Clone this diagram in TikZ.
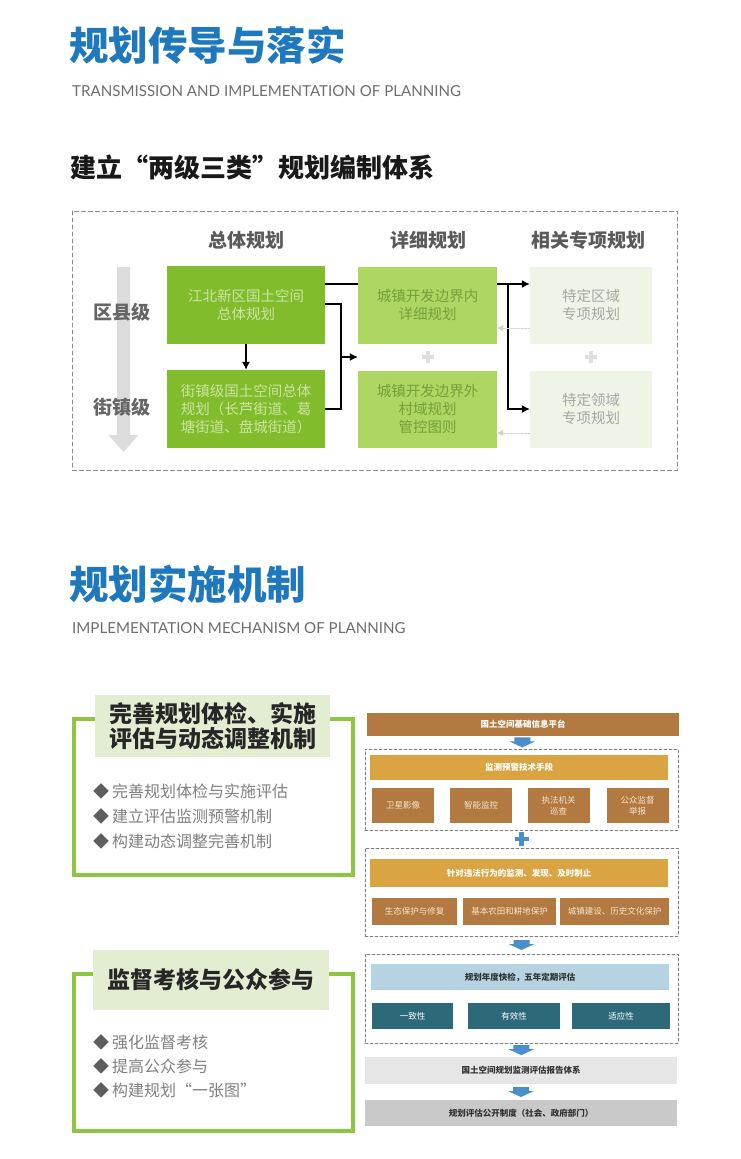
\documentclass[tikz,border=0pt]{standalone}
\usepackage{fontspec}
\setmainfont{Noto Sans CJK SC}
\newfontfamily\latinfont{Lato}
\usepackage{xcolor}
\usepackage{tikz}
\usetikzlibrary{arrows.meta, calc, positioning}

\definecolor{TitleBlue}{HTML}{1E78BE}
\definecolor{SubGray}{HTML}{6E6E6E}
\definecolor{HeadGray}{HTML}{5A5A5A}
\definecolor{LevelGray}{HTML}{DCDCDC}
\definecolor{LeafDark}{HTML}{80BC2C}
\definecolor{LeafDarkText}{HTML}{CDE4A0}
\definecolor{LeafMid}{HTML}{ADD663}
\definecolor{LeafMidText}{HTML}{74A03A}
\definecolor{LeafPale}{HTML}{EFF5E6}
\definecolor{LeafPaleText}{HTML}{A6A6A6}
\definecolor{PaleArrow}{HTML}{D2D2D2}
\definecolor{PlusGray}{HTML}{DEDEDE}
\definecolor{OutlineGray}{HTML}{8C8C8C}
\definecolor{FrameGreen}{HTML}{8DC640}
\definecolor{LabelGreen}{HTML}{E3EDD2}
\definecolor{PointGray}{HTML}{808080}
\definecolor{DiamondGray}{HTML}{5E5E5E}
\definecolor{GroupGray}{HTML}{7F7F7F}
\definecolor{Bronze}{HTML}{B27A40}
\definecolor{Amber}{HTML}{D9A441}
\definecolor{TileText}{HTML}{F5E6CF}
\definecolor{ArrowBlue}{HTML}{4A8FCC}
\definecolor{Teal}{HTML}{2C6A7A}
\definecolor{IceBlue}{HTML}{B5D3E1}
\definecolor{MistGray}{HTML}{E6E6E6}
\definecolor{AshGray}{HTML}{C9C9C9}

\newcommand{\setfs}[2]{\fontsize{#1}{#2}\selectfont}

\newcommand{\BlockArrow}[2][ArrowBlue]{
	\def\afill{#1}
	\def\apin{#2}
	\begin{scope}[shift={(\apin)}]
		\fill[\afill] (-8,-5) -- (8,-5) -- (8,-1) -- (13,-1) -- (0,5) -- (-13,-1) -- (-8,-1) -- cycle;
	\end{scope}
}
\newcommand{\PlusSign}[4]{
	\def\ppin{#1}
	\def\pcol{#2}
	\def\parm{#3}
	\def\pwid{#4}
	\draw[\pcol, line width=\pwid pt, line cap=butt] ($(\ppin)+(-\parm,0)$) -- ($(\ppin)+(\parm,0)$) ($(\ppin)+(0,-\parm)$) -- ($(\ppin)+(0,\parm)$);
}

\tikzset{
	headtext/.style={font=\setfs{19}{22}\bfseries, text=HeadGray, inner sep=0pt},
	plan/.style={inner sep=0pt, align=center, font=\setfs{14.5}{18}},
	planD/.style={plan, fill=LeafDark, text=LeafDarkText, minimum width=158pt, minimum height=78pt},
	planM/.style={plan, fill=LeafMid, text=LeafMidText, minimum width=139pt, minimum height=77pt},
	planP/.style={plan, fill=LeafPale, text=LeafPaleText, minimum width=122pt, minimum height=77pt},
	link/.style={line width=1.2pt, black, line cap=butt},
	linkarr/.style={link, -{Latex[length=8pt, width=8pt]}},
	backarr/.style={line width=0.9pt, PaleArrow, dash pattern=on 2pt off 1.5pt, -{Latex[length=6pt, width=7pt]}},
	dashbox/.style={draw=OutlineGray, line width=1pt, dash pattern=on 4pt off 3pt},
	greenframe/.style={draw=FrameGreen, line width=4pt, line cap=butt},
	tag/.style={fill=LabelGreen, inner sep=0pt, align=center, font=\setfs{23}{25}\bfseries, text=black!85},
	points/.style={anchor=west, inner sep=0pt, align=left, text=PointGray, font=\setfs{16}{25}},
	dashgroup/.style={draw=GroupGray, line width=0.9pt, dash pattern=on 3pt off 2pt, inner sep=0pt},
	bar/.style={inner sep=0pt, align=center, font=\setfs{8.5}{10}\bfseries, text=white, minimum width=298pt},
	tile/.style={fill=Bronze, inner sep=0pt, align=center, font=\setfs{8.5}{10.5}, text=TileText, minimum height=35pt},
	cell/.style={fill=Teal, inner sep=0pt, font=\setfs{8.5}{10}, text=white, minimum height=26pt},
}

\begin{document}
\begin{tikzpicture}[x=1pt, y=-1pt, line cap=round]
  \useasboundingbox[fill=white] (0,0) rectangle (740,1159);

  \node[anchor=west, inner sep=0pt, text=TitleBlue, font=\setfs{39.5}{44}\bfseries] (title1) at (69,45) {规划传导与落实};
  \node[anchor=west, inner sep=0pt, text=SubGray, font=\latinfont\setfs{15.1}{18}] (sub1) at (72,91) {TRANSMISSION AND IMPLEMENTATION OF PLANNING};
  \node[anchor=west, inner sep=0pt, text=black!90, font=\setfs{26}{30}\bfseries] (head1) at (70,167) {建立“两级三类”规划编制体系};

  \draw[dashbox] (72.5,211) rectangle (677.5,470);

  \node[headtext] (hzt) at (246,240) {总体规划};
  \node[headtext] (hxx) at (428,240) {详细规划};
  \node[headtext] (hzx) at (588,240) {相关专项规划};

  \fill[LevelGray] (117,267) -- (130,267) -- (130,435) -- (138.5,435) -- (123.5,452) -- (108.5,435) -- (117,435) -- cycle;
  \node[headtext, text=black!60] (lqx) at (121.5,312) {区县级};
  \node[headtext, text=black!60] (ljz) at (121.5,407) {街镇级};

  \node[planD] (b1) at (246,305) {江北新区国土空间\\总体规划};
  \node[planD] (b2) at (246,409) {街镇级国土空间总体\\规划（长芦街道、葛\\塘街道、盘城街道）};
  \node[planM] (b3) at (427.5,305) {城镇开发边界内\\详细规划};
  \node[planM] (b4) at (427.5,409) {城镇开发边界外\\村域规划\\管控图则};
  \node[planP] (b5) at (591,305) {特定区域\\专项规划};
  \node[planP] (b6) at (591,409) {特定领域\\专项规划};

  \coordinate (upper) at (0,284);
  \coordinate (lower) at (0,304);
  \coordinate (split) at (508,284);
  \coordinate (join) at (341,357);
  \coordinate (fb1) at (0,328);
  \coordinate (fb2) at (0,433);

  \draw[link] (b1.east |- upper) -- (b3.west |- upper);
  \draw[linkarr] (b3.east |- upper) -- (b5.west |- upper);
  \draw[linkarr] (split) |- (b6.west);
  \draw[link] (b1.east |- lower) -| (join) |- (b2.east);
  \draw[linkarr] (join) -- (join -| b3.west);
  \draw[linkarr] (b1) -- (b2);
  \draw[backarr] (b5.west |- fb1) -- (b3.east |- fb1);
  \draw[backarr] (b6.west |- fb2) -- (b4.east |- fb2);

  \coordinate (plus1) at ($(b3.south)!0.5!(b4.north)$);
  \coordinate (plus3) at ($(b5.south)!0.5!(b6.north)$);
  \PlusSign{plus1}{PlusGray}{6}{4}
  \PlusSign{plus3}{PlusGray}{6}{4}

  \node[anchor=west, inner sep=0pt, text=TitleBlue, font=\setfs{39.5}{44}\bfseries] (title2) at (69,584) {规划实施机制};
  \node[anchor=west, inner sep=0pt, text=SubGray, font=\latinfont\setfs{15.1}{18}] (sub2) at (72,628) {IMPLEMENTATION MECHANISM OF PLANNING};

  \draw[greenframe] (73.5,719) rectangle (352.5,875);
  \node[tag, minimum width=235pt, minimum height=62pt] (tag1) at (212.5,726) {完善规划体检、实施\\评估与动态调整机制};
  \node[points] (pts1) at (93,816) {{\color{DiamondGray}◆}\hspace{3pt}完善规划体检与实施评估\\{\color{DiamondGray}◆}\hspace{3pt}建立评估监测预警机制\\{\color{DiamondGray}◆}\hspace{3pt}构建动态调整完善机制};

  \draw[greenframe] (73.5,974) rectangle (352.5,1130.5);
  \node[tag, minimum width=236pt, minimum height=60pt] (tag2) at (211,980) {监督考核与公众参与};
  \node[points, font=\setfs{16}{24}] (pts2) at (93,1066) {{\color{DiamondGray}◆}\hspace{3pt}强化监督考核\\{\color{DiamondGray}◆}\hspace{3pt}提高公众参与\\{\color{DiamondGray}◆}\hspace{3pt}构建规划“一张图”};

  \node[bar, fill=Bronze, minimum width=312pt, minimum height=23pt] (plat) at (523,724.5) {国土空间基础信息平台};

  \node[dashgroup, minimum width=313pt, minimum height=81pt] (grp1) at (521.5,789.5) {};
  \node[bar, fill=Amber, minimum height=25pt] (tech) at (519,767.5) {监测预警技术手段};
  \node[tile, minimum width=62pt] (sat) at (403,805.5) {卫星影像};
  \node[tile, minimum width=62pt] (cam) at (481,805.5) {智能监控};
  \node[tile, minimum width=62pt] (law) at (558.5,805.5) {执法机关\\巡查};
  \node[tile, minimum width=62pt] (pub) at (637.5,805.5) {公众监督\\举报};

  \node[dashgroup, minimum width=313pt, minimum height=88pt] (grp2) at (521.5,892) {};
  \node[bar, fill=Amber, minimum height=28pt] (stop) at (519,873) {针对违法行为的监测、发现、及时制止};
  \node[tile, minimum width=85pt, minimum height=27pt] (eco) at (414.5,911.5) {生态保护与修复};
  \node[tile, minimum width=93pt, minimum height=27pt] (farm) at (509.5,911.5) {基本农田和耕地保护};
  \node[tile, minimum width=109pt, minimum height=27pt] (town) at (614.5,911.5) {城镇建设、历史文化保护};

  \node[dashgroup, minimum width=313pt, minimum height=89pt] (grp3) at (521.5,998.5) {};
  \node[bar, fill=IceBlue, text=black!80, minimum height=26pt] (yearly) at (520,977) {规划年度快检，五年定期评估};
  \node[cell, minimum width=81pt] (c1) at (412.5,1016) {一致性};
  \node[cell, minimum width=92pt] (c2) at (514,1016) {有效性};
  \node[cell, minimum width=98pt] (c3) at (621,1016) {适应性};

  \node[bar, fill=MistGray, text=black!80, minimum width=312pt, minimum height=27pt] (report) at (521,1070.5) {国土空间规划监测评估报告体系};
  \node[bar, fill=AshGray, text=black!80, minimum width=312pt, minimum height=26pt] (open) at (521,1113) {规划评估公开制度（社会、政府部门）};

  \coordinate (a1) at ($(plat.south)!0.5!(grp1.north)$);
  \coordinate (a2) at ($(grp2.south)!0.5!(grp3.north)$);
  \coordinate (a3) at ($(grp3.south)!0.5!(report.north)$);
  \coordinate (a4) at ($(report.south)!0.5!(open.north)$);
  \coordinate (plus2) at ($(grp1.south)!0.5!(grp2.north)$);
  \BlockArrow{a1}
  \BlockArrow{a2}
  \BlockArrow{a3}
  \BlockArrow{a4}
  \PlusSign{plus2}{ArrowBlue}{7}{4.5}

\end{tikzpicture}
\end{document}
